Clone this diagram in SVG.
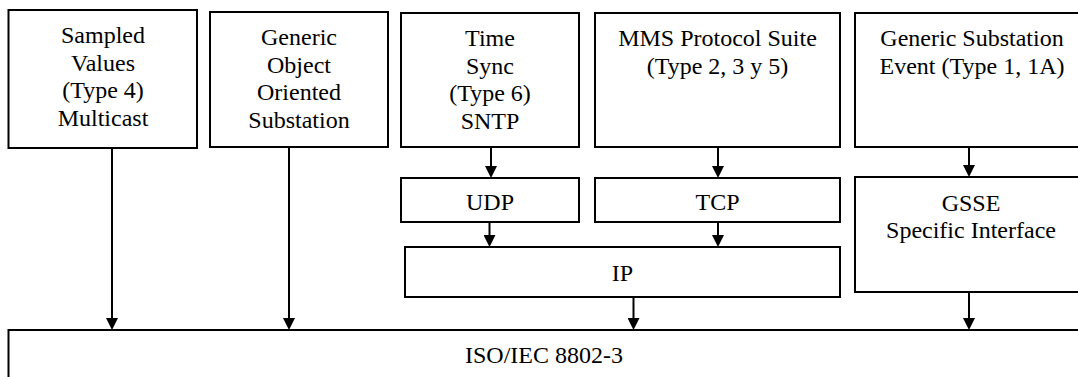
<svg xmlns="http://www.w3.org/2000/svg" width="1078" height="377" viewBox="0 0 1078 377">
<style>
.box{fill:#fff;stroke:#000;stroke-width:2}
.t{font-size:24px;fill:#000;text-anchor:middle}
.c{fill:none;stroke:#000;stroke-width:2}
</style>
<defs>
<marker id="ah" viewBox="0 0 12 12" refX="1" refY="6" markerWidth="12" markerHeight="12" markerUnits="userSpaceOnUse" orient="auto">
<path d="M0,0 L12,6 L0,12 z" fill="#000"/>
</marker>
</defs>
<rect width="1078" height="377" fill="#fff"/>
<g font-family="'Liberation Serif', 'Times New Roman', 'DejaVu Serif', serif">
<g id="sv">
<rect class="box" x="8.5" y="10" width="188.5" height="138"/>
<text class="t" x="103" y="43">Sampled</text>
<text class="t" x="103" y="70.6">Values</text>
<text class="t" x="103" y="98.2">(Type 4)</text>
<text class="t" x="103" y="125.8">Multicast</text>
</g>
<g id="goose">
<rect class="box" x="210" y="12" width="178" height="135"/>
<text class="t" x="299" y="45">Generic</text>
<text class="t" x="299" y="72.6">Object</text>
<text class="t" x="299" y="100.2">Oriented</text>
<text class="t" x="299" y="127.8">Substation</text>
</g>
<g id="timesync">
<rect class="box" x="401" y="13" width="178" height="134"/>
<text class="t" x="490" y="46">Time</text>
<text class="t" x="490" y="73.6">Sync</text>
<text class="t" x="490" y="101.2">(Type 6)</text>
<text class="t" x="490" y="128.8">SNTP</text>
</g>
<g id="mms">
<rect class="box" x="595" y="13" width="245" height="134"/>
<text class="t" x="717.5" y="46">MMS Protocol Suite</text>
<text class="t" x="717.5" y="73.6">(Type 2, 3 y 5)</text>
</g>
<g id="gse">
<rect class="box" x="855" y="13" width="235" height="134"/>
<text class="t" x="972" y="46">Generic Substation</text>
<text class="t" x="972" y="73.6">Event (Type 1, 1A)</text>
</g>
<g id="udp">
<rect class="box" x="401" y="178" width="178" height="44"/>
<text class="t" x="490" y="210">UDP</text>
</g>
<g id="tcp">
<rect class="box" x="595" y="178" width="245" height="44"/>
<text class="t" x="717.5" y="210">TCP</text>
</g>
<g id="gsse">
<rect class="box" x="855" y="177" width="235" height="115"/>
<text class="t" x="971" y="210.5">GSSE</text>
<text class="t" x="971" y="238">Specific Interface</text>
</g>
<g id="ip">
<rect class="box" x="405" y="247" width="435" height="50"/>
<text class="t" x="622.5" y="280.5">IP</text>
</g>
<g id="iso">
<rect class="box" x="8.5" y="330" width="1071" height="60"/>
<text class="t" x="544" y="362.5">ISO/IEC 8802-3</text>
</g>
</g>
<g id="connectors">
<path class="c" d="M112,148 V319" marker-end="url(#ah)"/>
<path class="c" d="M289,147 V319" marker-end="url(#ah)"/>
<path class="c" d="M491,147 V167" marker-end="url(#ah)"/>
<path class="c" d="M718,147 V167" marker-end="url(#ah)"/>
<path class="c" d="M969,147 V166" marker-end="url(#ah)"/>
<path class="c" d="M489.5,222 V236" marker-end="url(#ah)"/>
<path class="c" d="M718,222 V236" marker-end="url(#ah)"/>
<path class="c" d="M633.5,297 V319" marker-end="url(#ah)"/>
<path class="c" d="M969,292 V319" marker-end="url(#ah)"/>
</g>
</svg>
